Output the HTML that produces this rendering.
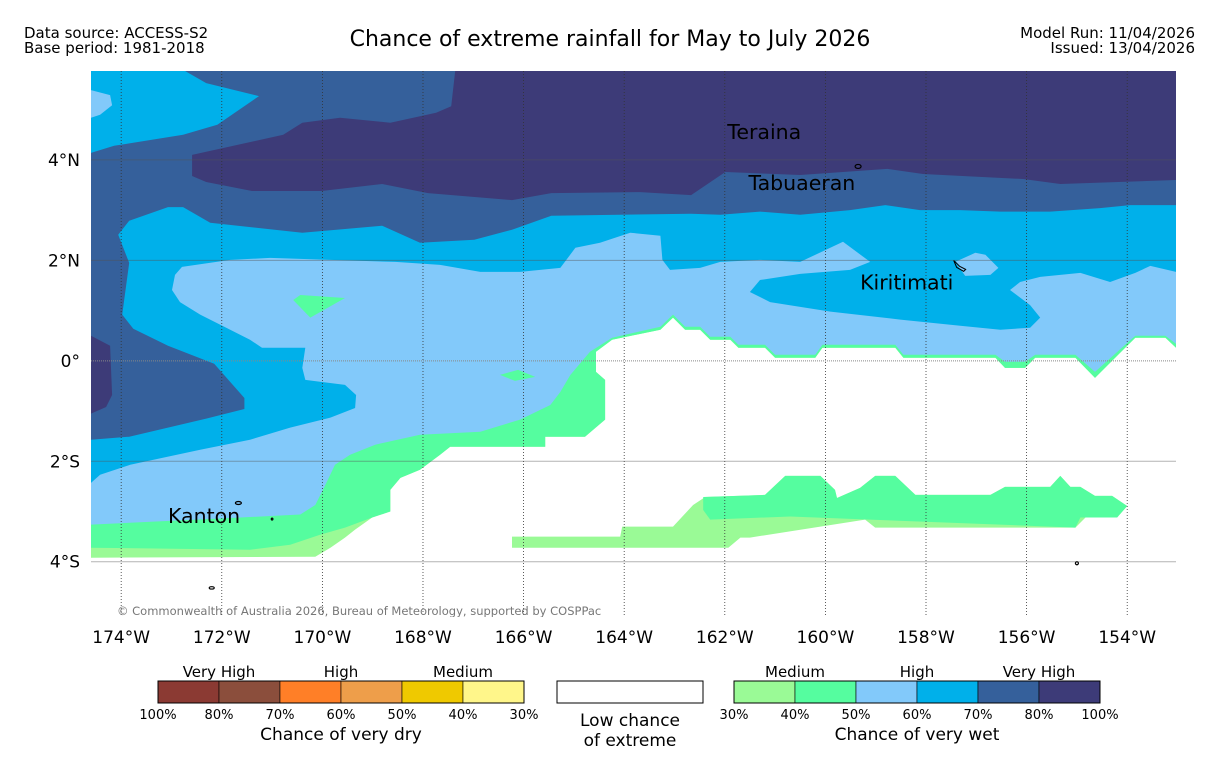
<!DOCTYPE html>
<html><head><meta charset="utf-8"><style>
body{margin:0;background:#fff;width:1219px;height:758px;overflow:hidden}
svg{display:block;font-family:"DejaVu Sans","Liberation Sans",sans-serif}
</style></head><body>
<svg id="chart" width="1219" height="758" viewBox="0 0 1219 758" xmlns="http://www.w3.org/2000/svg">
<text x="24" y="38" font-size="15">Data source: ACCESS-S2</text>
<text x="24" y="53" font-size="15">Base period: 1981-2018</text>
<text x="610" y="46" font-size="22" text-anchor="middle">Chance of extreme rainfall for May to July 2026</text>
<text x="1195" y="38" font-size="15" text-anchor="end">Model Run: 11/04/2026</text>
<text x="1195" y="53" font-size="15" text-anchor="end">Issued: 13/04/2026</text>
<defs><clipPath id="mapclip"><rect x="91" y="71" width="1085" height="546"/></clipPath></defs>
<g id="map" clip-path="url(#mapclip)">
<rect x="91" y="71" width="1085" height="546" fill="#fff"/>
</g>
<g id="axes"></g>
<g id="legend"></g>
</svg>
<script>
const lonTicks=[-174,-172,-170,-168,-166,-164,-162,-160,-158,-156,-154];
const latTicks=[4,2,0,-2,-4];
const lonW=-174.6, lonE=-153.03, latN=5.77, latS=-5.1;
const whiteEdge=[[-174.6,-3.92],[-170.14,-3.9],[-169.84,-3.72],[-169.55,-3.52],[-169.35,-3.36],[-169.01,-3.12],[-168.65,-3.0],[-168.65,-2.57],[-168.45,-2.33],[-168.06,-2.17],[-167.66,-1.87],[-167.46,-1.71],[-165.57,-1.71],[-165.57,-1.51],[-164.78,-1.51],[-164.38,-1.17],[-164.38,-0.38],[-164.56,-0.22],[-164.56,0.18],[-164.24,0.42],[-163.28,0.62],[-163.03,0.86],[-162.79,0.62],[-162.49,0.62],[-162.29,0.42],[-161.89,0.42],[-161.73,0.26],[-161.2,0.26],[-161.0,0.06],[-160.2,0.06],[-160.06,0.26],[-158.61,0.26],[-158.45,0.06],[-156.62,0.06],[-156.43,-0.14],[-156.03,-0.14],[-155.83,0.06],[-155.03,0.06],[-154.64,-0.34],[-154.04,0.26],[-153.84,0.46],[-153.24,0.46],[-153.03,0.26]];
const greenEdge=[[-174.6,-3.72],[-171.44,-3.76],[-170.64,-3.66],[-170.04,-3.46],[-169.55,-3.32],[-169.01,-3.12]].concat(whiteEdge.slice(6));
const lightBlueEdge=[[-174.6,-3.26],[-171.63,-3.12],[-170.44,-3.06],[-170.14,-2.87],[-169.94,-2.47],[-169.75,-2.07],[-169.45,-1.87],[-168.95,-1.67],[-168.06,-1.47],[-166.86,-1.41],[-166.07,-1.17],[-165.47,-0.88],[-165.27,-0.62],[-165.07,-0.28],[-164.68,0.18],[-164.24,0.46],[-163.28,0.68],[-163.03,0.92],[-162.79,0.68],[-162.49,0.68],[-162.29,0.48],[-161.89,0.48],[-161.73,0.32],[-161.2,0.32],[-161.0,0.12],[-160.2,0.12],[-160.06,0.32],[-158.61,0.32],[-158.45,0.12],[-156.62,0.12],[-156.43,-0.02],[-156.03,-0.02],[-155.83,0.12],[-155.03,0.12],[-154.64,-0.22],[-154.04,0.32],[-153.84,0.5],[-153.24,0.5],[-153.03,0.34]];
const cyanEdge=[[-174.6,-2.43],[-174.42,-2.27],[-173.82,-2.07],[-172.43,-1.77],[-171.44,-1.57],[-170.64,-1.33],[-169.84,-1.13],[-169.35,-0.94],[-169.33,-0.68],[-169.55,-0.48],[-170.34,-0.38],[-170.4,-0.14],[-170.34,0.26],[-171.2,0.26],[-171.44,0.42],[-172.03,0.72],[-172.43,0.92],[-172.83,1.17],[-172.99,1.41],[-172.93,1.71],[-172.79,1.87],[-171.83,2.01],[-171.04,2.05],[-169.84,2.01],[-168.55,1.97],[-167.66,1.91],[-166.86,1.77],[-166.07,1.77],[-165.27,1.85],[-164.97,2.25],[-164.48,2.35],[-163.88,2.55],[-163.28,2.49],[-163.24,2.01],[-163.09,1.81],[-162.49,1.85],[-162.09,1.97],[-161.3,2.01],[-160.5,1.97],[-159.65,2.37],[-159.11,1.97],[-159.51,1.81],[-160.5,1.73],[-161.3,1.61],[-161.5,1.37],[-161.1,1.17],[-159.9,0.98],[-158.51,0.82],[-157.32,0.7],[-156.52,0.62],[-155.93,0.66],[-155.73,0.86],[-155.93,1.11],[-156.33,1.41],[-156.13,1.57],[-155.73,1.67],[-154.93,1.75],[-154.34,1.57],[-153.84,1.75],[-153.54,1.89],[-153.03,1.77]];
const steelPoly=[[-171.26,5.27],[-172.31,5.53],[-172.73,5.77],[-153.03,5.77],[-153.03,3.1],[-153.94,3.1],[-154.54,3.04],[-155.53,2.97],[-156.52,2.97],[-157.32,3.0],[-158.12,3.0],[-158.81,3.1],[-159.51,3.0],[-160.5,2.91],[-161.3,2.97],[-162.09,2.91],[-162.67,2.93],[-165.45,2.89],[-166.23,2.61],[-166.98,2.41],[-168.06,2.35],[-168.81,2.69],[-170.4,2.55],[-172.23,2.75],[-172.77,3.06],[-173.07,3.06],[-173.84,2.79],[-174.06,2.51],[-173.84,1.95],[-173.98,0.92],[-173.76,0.64],[-173.07,0.3],[-172.15,-0.06],[-171.55,-0.74],[-171.55,-0.96],[-172.31,-1.15],[-173.84,-1.51],[-174.6,-1.57],[-174.6,4.14],[-174.14,4.28],[-172.77,4.5],[-172.09,4.7]];
const purplePoly=[[-167.36,5.77],[-153.03,5.77],[-153.03,3.6],[-155.33,3.52],[-156.07,3.62],[-158.06,3.72],[-158.77,3.82],[-160.5,3.7],[-161.99,3.76],[-162.67,3.3],[-163.68,3.36],[-165.45,3.34],[-166.23,3.2],[-167.9,3.34],[-168.81,3.52],[-170.02,3.38],[-171.4,3.38],[-172.31,3.56],[-172.59,3.68],[-172.59,4.1],[-170.78,4.5],[-170.4,4.74],[-169.65,4.84],[-168.65,4.74],[-167.74,4.94],[-167.44,5.07]];
const purpleBlob=[[-174.6,0.5],[-174.22,0.3],[-174.18,-0.68],[-174.3,-0.92],[-174.6,-1.05]];
const lightBlueNW=[[-174.6,5.39],[-174.22,5.29],[-174.18,5.09],[-174.42,4.9],[-174.6,4.84]];
const lightBlueKiri=[[-157.42,1.97],[-157.02,2.15],[-156.82,2.11],[-156.56,1.85],[-156.72,1.71],[-157.22,1.69]];
const greenIsle1=[[-170.44,1.31],[-169.55,1.25],[-170.24,0.86],[-170.58,1.21]];
const greenIsle2=[[-166.47,-0.28],[-166.11,-0.18],[-165.77,-0.32],[-166.17,-0.4]];
const southLight=[[-166.23,-3.5],[-164.08,-3.5],[-164.04,-3.3],[-163.03,-3.3],[-162.63,-2.87],[-162.39,-2.71],[-161.2,-2.67],[-160.8,-2.29],[-160.1,-2.29],[-159.81,-2.57],[-159.77,-2.73],[-159.31,-2.53],[-159.01,-2.29],[-158.61,-2.29],[-158.21,-2.67],[-156.72,-2.67],[-156.43,-2.51],[-155.53,-2.51],[-155.33,-2.29],[-155.13,-2.51],[-154.93,-2.51],[-154.64,-2.69],[-154.3,-2.69],[-154.0,-2.89],[-154.2,-3.12],[-154.83,-3.12],[-155.03,-3.32],[-159.01,-3.32],[-159.21,-3.16],[-161.5,-3.52],[-161.69,-3.52],[-161.93,-3.72],[-166.23,-3.72]];
const southGreen=[[-162.43,-2.71],[-161.2,-2.67],[-160.8,-2.29],[-160.1,-2.29],[-159.81,-2.57],[-159.77,-2.73],[-159.31,-2.53],[-159.01,-2.29],[-158.61,-2.29],[-158.21,-2.67],[-156.72,-2.67],[-156.43,-2.51],[-155.53,-2.51],[-155.33,-2.29],[-155.13,-2.51],[-154.93,-2.51],[-154.64,-2.69],[-154.3,-2.69],[-154.0,-2.89],[-154.2,-3.12],[-154.93,-3.12],[-155.03,-3.32],[-156.52,-3.26],[-159.11,-3.16],[-160.7,-3.1],[-162.29,-3.16],[-162.43,-2.97]];
const places=["Teraina","Tabuaeran","Kiritimati","Kanton"];
const placeLon=[-161.95,-161.53,-159.31,-173.07];
const placeLat=[4.42,3.4,1.42,-3.23];
const dryColors=["#8b3a33","#8b4e3c","#ff7f27","#ee9e4a","#efc900","#fff68a"];
const dryLabels=["100%","80%","70%","60%","50%","40%","30%"];
const wetColors=["#9afa96","#55fd9f","#82c9fa","#00b0ea","#35609b","#3d3b78"];
const wetLabels=["30%","40%","50%","60%","70%","80%","100%"];

const NS="http://www.w3.org/2000/svg";
const X0=91,X1=1176,Y0=71,Y1=617;
function xS(lon){return X0+(lon-lonW)/(lonE-lonW)*(X1-X0);}
function yS(lat){return Y0+(latN-lat)/(latN-latS)*(Y1-Y0);}
function mk(tag,attrs,parent){const e=document.createElementNS(NS,tag);for(const k in attrs)e.setAttribute(k,attrs[k]);parent.appendChild(e);return e;}
function pts(arr){return arr.map(p=>xS(p[0]).toFixed(1)+","+yS(p[1]).toFixed(1)).join(" ");}
function topClosed(edge){return [[lonW,latN]].concat(edge).concat([[lonE,latN]]);}
const map=document.getElementById('map');
function poly(arr,color,name){const e=mk('polygon',{points:pts(arr),fill:color},map);

return e;}
poly(topClosed(whiteEdge),wetColors[0],'region-wet-30-40');
poly(topClosed(greenEdge),wetColors[1],'region-wet-40-50');
poly(topClosed(lightBlueEdge),wetColors[2],'region-wet-50-60');
poly(topClosed(cyanEdge),wetColors[3],'region-wet-60-70');
poly(lightBlueNW,wetColors[2],'region-wet-50-60-northwest');
poly(lightBlueKiri,wetColors[2],'region-wet-50-60-kiritimati');
poly(steelPoly,wetColors[4],'region-wet-70-80');
poly(purplePoly,wetColors[5],'region-wet-80-100');
poly(purpleBlob,wetColors[5],'region-wet-80-100-west');
poly(greenIsle1,wetColors[1],'region-wet-40-50-patch');
poly(greenIsle2,wetColors[1],'region-wet-40-50-spot');
poly(southLight,wetColors[0],'region-wet-30-40-south');
poly(southGreen,wetColors[1],'region-wet-40-50-south');
const isl=[[-171.67,-2.83,3,1.5],[-159.35,3.87,3,2],[-172.2,-4.52,2.5,1.2],[-155.0,-4.03,1.5,1.5],[-171.0,-3.15,0.8,1]];
isl.forEach(i=>{const e=mk('ellipse',{cx:xS(i[0]),cy:yS(i[1]),rx:i[2],ry:i[3],fill:'none',stroke:'#000','stroke-width':1.2},map);

});
const kp=mk('path',{d:`M${xS(-157.45)} ${yS(2.0)} l6 6 l6 3 l-2 2 l-7 -4 z`,fill:'none',stroke:'#000','stroke-width':1},map);


lonTicks.forEach(l=>{const e=mk('line',{x1:xS(l),x2:xS(l),y1:Y0,y2:Y1,stroke:'#333','stroke-width':0.8,'stroke-dasharray':'1,2'},map);

});
latTicks.forEach(l=>{const e=mk('line',{x1:X0,x2:X1,y1:yS(l),y2:yS(l),stroke:l===0?'#888':'#555','stroke-opacity':l===0?1:0.45,'stroke-width':1,'stroke-dasharray':l===0?'1,1':'none'},map);

});
places.forEach((p,i)=>{const t=mk('text',{x:xS(placeLon[i]),y:yS(placeLat[i]),'font-size':20.5,fill:'#000'},map);t.textContent=p;

});
const cp=mk('text',{x:117,y:615,'font-size':11.5,fill:'#777'},map);cp.textContent="© Commonwealth of Australia 2026, Bureau of Meteorology, supported by COSPPac";


const axes=document.getElementById('axes');
lonTicks.forEach(l=>{const t=mk('text',{x:xS(l),y:643,'font-size':17,'text-anchor':'middle'},axes);t.textContent=Math.abs(l)+"°W";

});
latTicks.forEach(l=>{const t=mk('text',{x:80,y:yS(l)+6,'font-size':17,'text-anchor':'end'},axes);t.textContent=l===0?"0°":Math.abs(l)+"°"+(l>0?"N":"S");

});
const lg=document.getElementById('legend');
function bar(x0,colors,labels,cats,catX,title,tx,nm){
 const w=61;
 colors.forEach((c,i)=>{const r=mk('rect',{x:x0+i*w,y:681,width:w,height:22,fill:c,stroke:'#000','stroke-width':0.6},lg);
 
 });
 const o=mk('rect',{x:x0,y:681,width:w*colors.length,height:22,fill:'none',stroke:'#000','stroke-width':1},lg);
 
 
 labels.forEach((l,i)=>{const t=mk('text',{x:x0+i*w,y:719,'font-size':13,'text-anchor':'middle'},lg);t.textContent=l;
 
 });
 cats.forEach((c,i)=>{const t=mk('text',{x:x0+catX[i]*w,y:677,'font-size':15,'text-anchor':'middle'},lg);t.textContent=c;
 
 });
 const t=mk('text',{x:tx,y:740,'font-size':17,'text-anchor':'middle'},lg);t.textContent=title;
 
 
}
bar(158,dryColors,dryLabels,["Very High","High","Medium"],[1,3,5],"Chance of very dry",341,'dry-colorbar');
bar(734,wetColors,wetLabels,["Medium","High","Very High"],[1,3,5],"Chance of very wet",917,'wet-colorbar');
const wb=mk('rect',{x:557,y:681,width:146,height:22,fill:'#fff',stroke:'#000','stroke-width':1},lg);


[["Low chance",726],["of extreme",746]].forEach(a=>{const t=mk('text',{x:630,y:a[1],'font-size':17,'text-anchor':'middle'},lg);t.textContent=a[0];

});
</script>
</body></html>
